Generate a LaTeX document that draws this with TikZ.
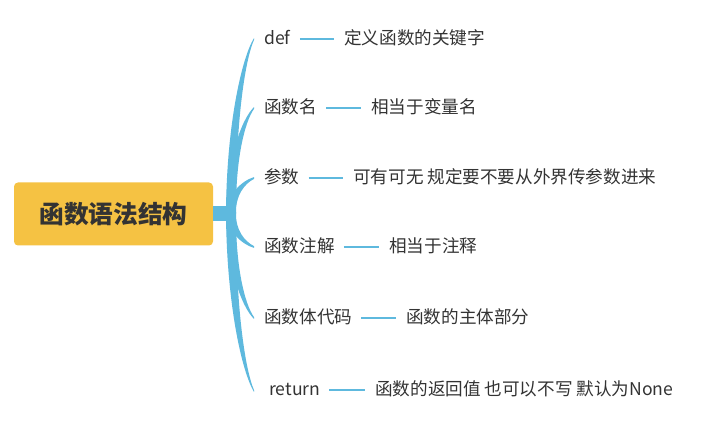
\documentclass[tikz,border=0pt]{standalone}
\usepackage{fontspec}
\setmainfont{Noto Sans CJK SC}
\definecolor{boxfill}{HTML}{F5C243}
\definecolor{linecol}{HTML}{5EB9DE}
\definecolor{txt}{HTML}{333333}
\tikzset{
  rootbox/.style={fill=boxfill, rounded corners=4pt, minimum width=199pt, minimum height=63pt, inner sep=0pt, text=txt, font=\fontsize{24.7}{24.7}\selectfont\bfseries},
  childtxt/.style={anchor=west, inner sep=0pt, text=txt, font=\fontsize{17.6}{17.6}\selectfont, text height=1.06em, text depth=0em},
  leaf/.style={draw=linecol, line width=2.8pt, shorten <=9pt, shorten >=10pt},
  branchfill/.style={fill=linecol}
}
\begin{document}
\begin{tikzpicture}[x=1pt,y=-1pt]
\useasboundingbox (0,0) rectangle (724,427);
\node[rootbox] (root) at (113.5,214) {函数语法结构};
\fill[linecol] (root.east) ++(-0.5,-7.5) rectangle (231,221.5);
\coordinate (hub) at (231,213);
% tapered branches
\foreach \Y/\s in {39/-1,108/-1,178/-1,247/1,318/1,391/1}{
  \pgfmathsetmacro{\Pa}{213+0.5*(\Y-213)}
  \pgfmathsetmacro{\Pb}{\Y+0.12*(213-\Y)}
  \fill[branchfill] (226,213) .. controls (226.5,\Pa) and (241.5,{\Pb+1.5*\s}) .. (254,{\Y+0.9*\s})
     -- (254,{\Y-0.9*\s}) .. controls (244.5,{\Pb-1.5*\s}) and (235.5,\Pa) .. (236,213) -- cycle;
}
% children
\node[childtxt] (c1) at (264,39) {def};
\node[childtxt] (c2) at (264,108) {函数名};
\node[childtxt] (c3) at (264,178) {参数};
\node[childtxt] (c4) at (264,247) {函数注解};
\node[childtxt] (c5) at (264,318) {函数体代码};
\node[childtxt] (c6) at (269,390) {return};
% grandchildren
\node[childtxt] (g1) at (344,39) {定义函数的关键字};
\node[childtxt] (g2) at (371,108) {相当于变量名};
\node[childtxt] (g3) at (353,178) {可有可无 规定要不要从外界传参数进来};
\node[childtxt] (g4) at (389,247) {相当于注释};
\node[childtxt] (g5) at (406,318) {函数的主体部分};
\node[childtxt] (g6) at (375,390) {函数的返回值 也可以不写 默认为None};
\foreach \i in {1,...,6}{
  \draw[leaf] (c\i.east) -- (g\i.west);
}
\end{tikzpicture}
\end{document}
